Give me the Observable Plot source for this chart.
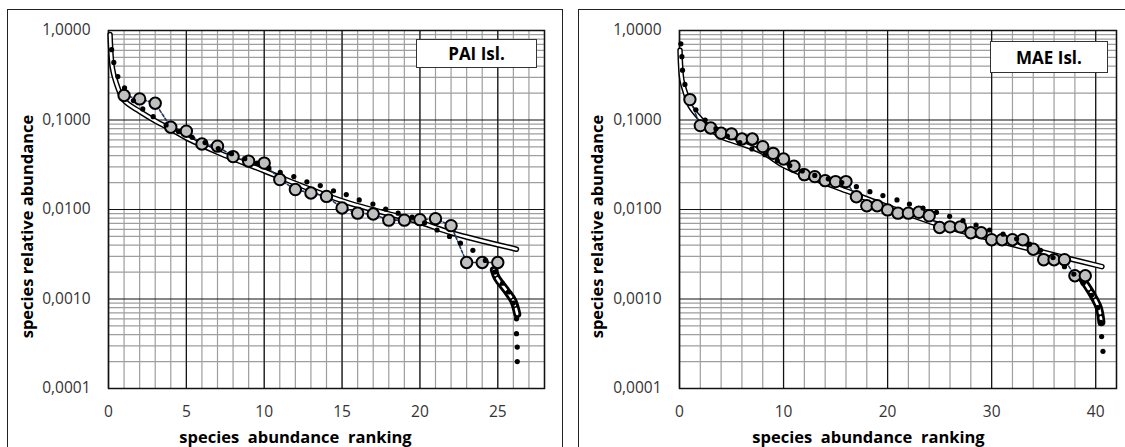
<!DOCTYPE html>
<html>
<head>
<meta charset="utf-8">
<script src="https://cdn.jsdelivr.net/npm/d3@7"></script>
<script src="https://cdn.jsdelivr.net/npm/@observablehq/plot@0.6"></script>
<style>
  body { margin: 0; background: #fff; font-family: "Open Sans", Lato, sans-serif; }
  #wrap { position: relative; width: 1125px; height: 447px; overflow: hidden; background: #fff; }
  .panel { position: absolute; border: 1px solid #222; box-sizing: border-box; }
  .svgbox { position: absolute; top: 0; }
  .lbl { position: absolute; background: #fff; border: 1px solid #333; box-sizing: border-box;
         font-family: "Open Sans", sans-serif; font-weight: bold; font-size: 17px; color: #000;
         display: flex; align-items: center; justify-content: center; }
</style>
</head>
<body>
<div id="wrap"></div>
<script>
// ---------- tick values ----------
const yMajor = [0.0001, 0.001, 0.01, 0.1, 1];
const xMajorPAI = [0, 5, 10, 15, 20, 25];
const xMajorMAE = [0, 10, 20, 30, 40];

// ---------- PAI Isl. ----------
const paiRank = [1,2,3,4,5,6,7,8,9,10,11,12,13,14,15,16,17,18,19,20,21,22,23,24,25];
const paiAbund = [0.188,0.172,0.154,0.083,0.075,0.054,0.051,0.039,0.0347,0.0330,0.0216,0.0167,0.0153,0.0140,0.0104,0.0091,0.0089,0.0076,0.0076,0.0077,0.0079,0.0066,0.00256,0.00256,0.00256];
const paiDotX = [0.2,0.34,0.6,1.03,1.6,2.2,2.87,3.7,4.5,5.37,6.2,7.05,7.9,8.75,9.55,10.3,11.03,11.9,12.74,13.6,14.45,15.27,16.1,16.98,17.8,18.6,19.5,20.3,21.1,21.9,22.6,23.4,24.2,24.8,25.3,25.7,26.0,26.2,26.2,26.25,26.25];
const paiDotY = [0.61,0.44,0.306,0.229,0.165,0.133,0.109,0.088,0.074,0.064,0.056,0.048,0.042,0.037,0.033,0.029,0.026,0.0233,0.0204,0.0185,0.0162,0.0147,0.0128,0.0115,0.0101,0.0091,0.0082,0.0071,0.0059,0.0050,0.0042,0.0035,0.0027,0.0020,0.0015,0.0012,0.0009,0.00060,0.00041,0.00029,0.00020];
const paiFitX = [0.1,0.24,0.45,1,2,3,4,5,7,10,15,20,22,26.2];
const paiFitY = [0.9,0.39,0.275,0.166,0.125,0.098,0.079,0.063,0.0436,0.027,0.0125,0.0072,0.0055,0.0036];
const paiTailX = [24.75,24.93,25.57,26.0,26.25];
const paiTailY = [0.0021,0.00174,0.00123,0.00095,0.00068];

// ---------- MAE Isl. ----------
const maeRank = [1,2,3,4,5,6,7,8,9,10,11,12,13,14,15,16,17,18,19,20,21,22,23,24,25,26,27,28,29,30,31,32,33,34,35,36,37,38,39];
const maeAbund = [0.169,0.0865,0.0815,0.0711,0.0699,0.0614,0.0614,0.0504,0.0424,0.0367,0.0304,0.0245,0.0233,0.0210,0.0205,0.0205,0.0139,0.0110,0.0110,0.0099,0.0091,0.0091,0.0093,0.0085,0.0063,0.0064,0.0064,0.0055,0.0055,0.0046,0.0046,0.0046,0.0046,0.0036,0.00275,0.00275,0.00275,0.00182,0.00182];
const maeDotX = [0.13,0.23,0.29,0.52,1.58,2.47,3.5,4.6,5.8,6.96,8.2,9.4,10.6,11.8,13.0,14.3,15.6,17.0,18.3,19.55,20.9,22.1,23.4,24.7,25.96,27.25,28.5,29.8,31.1,32.4,33.65,34.7,35.9,37.0,37.9,38.8,39.6,40.2,40.5,40.57,40.7];
const maeDotY = [0.71,0.51,0.36,0.25,0.13,0.100,0.080,0.066,0.056,0.0475,0.041,0.035,0.031,0.027,0.024,0.022,0.020,0.018,0.0158,0.0143,0.0128,0.0115,0.0104,0.0093,0.0084,0.0075,0.0067,0.0059,0.0053,0.0047,0.0041,0.0035,0.0029,0.0023,0.0019,0.0015,0.0011,0.0008,0.00055,0.00038,0.00026];
const maeFitX = [0.05,0.23,0.6,1,2,3,4.16,6,8,10,13,16,18.3,24.75,31.2,37.6,40.6];
const maeFitY = [0.6,0.28,0.196,0.145,0.103,0.079,0.064,0.054,0.0436,0.031,0.022,0.0162,0.0128,0.0069,0.0043,0.0028,0.0023];
const maeTailX = [38.6,38.85,39.65,40.3,40.55];
const maeTailY = [0.00175,0.00158,0.00113,0.0008,0.00055];

const yMinor = [];
for (const d of [0.0001, 0.001, 0.01, 0.1]) for (let k = 2; k <= 9; k++) yMinor.push(k * d);
const fmtY = v => v.toFixed(4).replace(".", ",");

function zip(xs, ys) { return xs.map((x, i) => ({x, y: ys[i]})); }

function makePanel(cfg) {
  const obs = zip(cfg.rank, cfg.abund);
  const dots = zip(cfg.dotX, cfg.dotY);
  const fit = zip(cfg.fitX, cfg.fitY);
  const tail = zip(cfg.tailX, cfg.tailY);
  return Plot.plot({
    width: 560, height: 447,
    marginLeft: cfg.marginLeft, marginRight: cfg.marginRight, marginTop: 30, marginBottom: 59,
    x: {domain: cfg.xDomain},
    y: {type: "log", domain: [1e-4, 1]},
    style: {fontFamily: "'Open Sans', Lato, sans-serif", background: "transparent", overflow: "visible"},
    marks: [
      Plot.ruleX(cfg.xMinor, {stroke: "#9e9e9e", strokeWidth: 1.2}),
      Plot.ruleY(yMinor, {stroke: "#9e9e9e", strokeWidth: 1.2}),
      Plot.ruleX(cfg.xMajor, {stroke: "#111", strokeWidth: 1.2}),
      Plot.ruleY(yMajor, {stroke: "#111", strokeWidth: 1.2}),
      Plot.frame({stroke: "#111", strokeWidth: 1.5}),
      Plot.line(fit, {x: "x", y: "y", stroke: "#000", strokeWidth: 5.5, curve: "catmull-rom", strokeLinecap: "round"}),
      Plot.line(fit, {x: "x", y: "y", stroke: "#fff", strokeWidth: 2.6, curve: "catmull-rom", strokeLinecap: "round"}),
      Plot.line(tail, {x: "x", y: "y", stroke: "#000", strokeWidth: 8, curve: "catmull-rom", strokeLinecap: "round"}),
      Plot.line(tail, {x: "x", y: "y", stroke: "#fff", strokeWidth: 2.6, curve: "catmull-rom", strokeDasharray: "5,4"}),
      Plot.line(obs, {x: "x", y: "y", stroke: "#1f3864", strokeWidth: 1.6, strokeDasharray: "3,2"}),
      Plot.dot(obs, {x: "x", y: "y", r: 5.7, fill: "#c0c0c0", stroke: "#000", strokeWidth: 2}),
      Plot.dot(dots, {x: "x", y: "y", r: 2.6, fill: "#000", stroke: "none"}),
      Plot.axisY(yMajor, {tickFormat: fmtY, tickSize: 0, tickPadding: 18, fontSize: 15.5, color: "#333", label: null}),
      Plot.axisX(cfg.xMajor, {tickFormat: d => String(d), tickSize: 0, tickPadding: 17, fontSize: 15.5, color: "#333", label: null}),
      Plot.text(["species relative abundance"], {text: d => d, frameAnchor: "left", textAnchor: "middle", lineAnchor: "middle", rotate: -90, dx: cfg.yTitleDx, dy: 17, fontSize: 16.5, fontWeight: "bold", fill: "#000"}),
      Plot.text(["species  abundance  ranking"], {text: d => d, frameAnchor: "bottom", textAnchor: "middle", lineAnchor: "middle", dx: cfg.xTitleDx, dy: 49, fontSize: 16.5, fontWeight: "bold", fill: "#000", style: "white-space:pre"})
    ]
  });
}

const wrap = document.getElementById("wrap");
function addDiv(cls, css, text) {
  const d = document.createElement("div");
  d.className = cls; d.style.cssText = css;
  if (text) d.textContent = text;
  wrap.appendChild(d);
  return d;
}
addDiv("panel", "left:7px;top:9px;width:556px;height:470px;");
addDiv("panel", "left:578px;top:9px;width:560px;height:470px;");

const left = makePanel({
  rank: paiRank, abund: paiAbund, dotX: paiDotX, dotY: paiDotY, fitX: paiFitX, fitY: paiFitY, tailX: paiTailX, tailY: paiTailY,
  xDomain: [0, 28], xMajor: xMajorPAI, xMinor: d3.range(0, 29, 1),
  marginLeft: 108, marginRight: 16, yTitleDx: -80.5, xTitleDx: -31
});
const right = makePanel({
  rank: maeRank, abund: maeAbund, dotX: maeDotX, dotY: maeDotY, fitX: maeFitX, fitY: maeFitY, tailX: maeTailX, tailY: maeTailY,
  xDomain: [0, 42], xMajor: xMajorMAE, xMinor: d3.range(0, 43, 2),
  marginLeft: 114, marginRight: 9, yTitleDx: -81.5, xTitleDx: -29.5
});
const b1 = addDiv("svgbox", "left:0px;"); b1.appendChild(left);
const b2 = addDiv("svgbox", "left:565px;"); b2.appendChild(right);

addDiv("lbl", "left:416px;top:39px;width:121px;height:29px;", "PAI Isl.");
addDiv("lbl", "left:990px;top:41px;width:118px;height:32px;", "MAE Isl.");
</script>
</body>
</html>
